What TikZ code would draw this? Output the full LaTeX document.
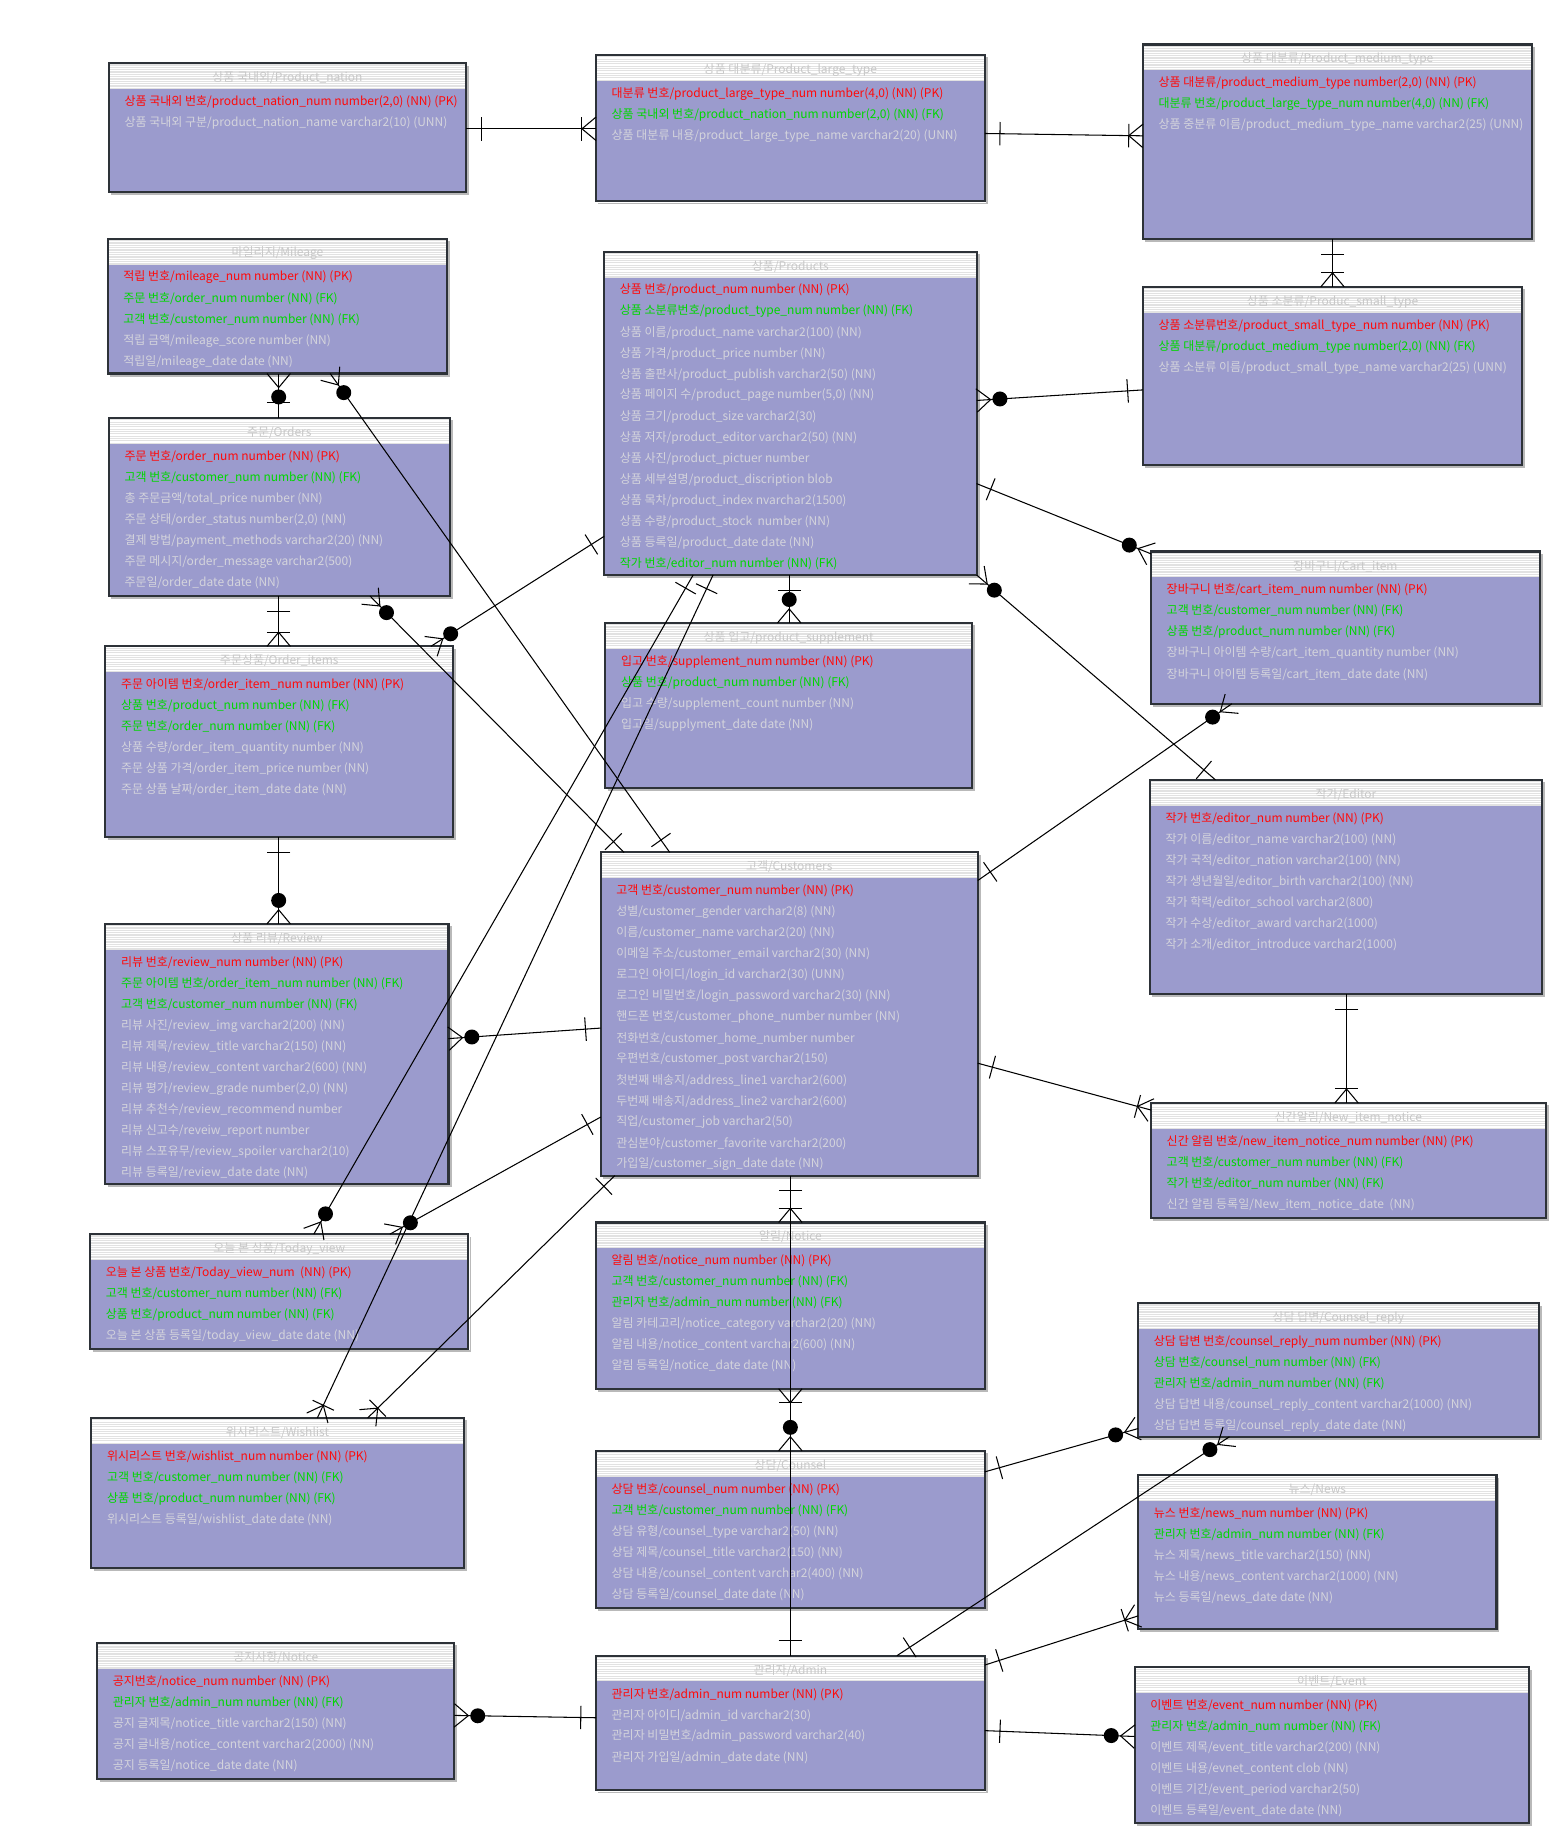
\documentclass[tikz,border=0pt]{standalone}
\usepackage{fontspec}
\setmainfont{Noto Sans CJK KR}
\usetikzlibrary{calc}
\definecolor{bodyc}{RGB}{155,155,205}
\definecolor{borderc}{RGB}{45,50,56}
\definecolor{pkc}{RGB}{255,10,10}
\definecolor{fkc}{RGB}{0,215,0}
\definecolor{nmc}{RGB}{212,212,220}
\definecolor{ttlc}{RGB}{200,200,200}
\definecolor{hdrc}{RGB}{226,226,226}
\newcommand\rowfont{\fontsize{5.12pt}{6pt}\selectfont}
\tikzset{
  entbox/.style={fill=bodyc, inner sep=0pt, outer sep=0pt, anchor=north west, draw=none},
  rowtxt/.style={anchor=west, inner sep=0pt, font=\rowfont},
  ttltxt/.style={inner sep=0pt, text=ttlc, font=\rowfont},
  conn/.style={line width=0.45pt, draw=black},
}
\newcommand\ent[6]{%
  \node[entbox, minimum width={(#4-#2)*0.5pt}, minimum height={(#5-#3)*0.5pt}] (#1) at (#2,#3) {};
  \fill[hdrc] (#2,#3) rectangle (#4,#3+22);
  \foreach \k in {0.5,2.5,...,20.5} \draw[white, line width=0.5pt] (#2,#3+\k) -- (#4,#3+\k);
  \draw[gray!55, line width=0.8pt] (#2+2,#5+1.8) -- (#4+1.8,#5+1.8) -- (#4+1.8,#3+2);
  \draw[borderc, line width=0.9pt] (#1.north west) rectangle (#1.south east);
  \node[ttltxt] (#1-t) at ($(#1.north)+(0,12.5)$) {#6};
}
\newcommand\rw[4]{\node[rowtxt, text=#3] (#1-r#2) at ($(#1.north west)+(13,{33+17.95*(#2-1)})$) {#4};}
\newcommand\mkone[2]{\coordinate (mk) at ($(#1)!6.5pt!(#2)$); \draw[conn] ($(mk)!5pt!90:(#2)$) -- ($(mk)!5pt!-90:(#2)$);}
\newcommand\mkcrow[2]{\coordinate (cv) at ($(#1)!6pt!(#2)$); \draw[conn] ($(#1)!5pt!90:(#2)$) -- (cv) -- ($(#1)!5pt!-90:(#2)$);}
\newcommand\mkom[2]{\mkcrow{#1}{#2}\coordinate (mk) at ($(#1)!6pt!(#2)$); \draw[conn] ($(mk)!5pt!90:(#2)$) -- ($(mk)!5pt!-90:(#2)$);}
\newcommand\mkzm[2]{\mkcrow{#1}{#2}\fill ($(#1)!10pt!(#2)$) circle (3.2pt);}
\newcommand\rel[5]{\coordinate (#1a) at #2; \coordinate (#1b) at #3; \draw[conn] (#1a) -- (#1b); \csname mk#4\endcsname{#1a}{#1b}\csname mk#5\endcsname{#1b}{#1a}}
\begin{document}
\catcode`\_=12
\begin{tikzpicture}[x=0.5pt, y=-0.5pt]
\fill[white] (0,0) rectangle (1331,1568);
\useasboundingbox (0,0) rectangle (1331,1568);
% ---------------- entities
\ent{nation}{93}{54}{398}{164}{상품 국내외/Product_nation}
\rw{nation}{1}{pkc}{상품 국내외 번호/product_nation_num number(2,0) (NN) (PK)}
\rw{nation}{2}{nmc}{상품 국내외 구분/product_nation_name varchar2(10) (UNN)}

\ent{large}{509}{47}{841}{172}{상품 대분류/Product_large_type}
\rw{large}{1}{pkc}{대분류 번호/product_large_type_num number(4,0) (NN) (PK)}
\rw{large}{2}{fkc}{상품 국내외 번호/product_nation_num number(2,0) (NN) (FK)}
\rw{large}{3}{nmc}{상품 대분류 내용/product_large_type_name varchar2(20) (UNN)}

\ent{medium}{976}{38}{1308}{204}{상품 대분류/Product_medium_type}
\rw{medium}{1}{pkc}{상품 대분류/product_medium_type number(2,0) (NN) (PK)}
\rw{medium}{2}{fkc}{대분류 번호/product_large_type_num number(4,0) (NN) (FK)}
\rw{medium}{3}{nmc}{상품 중분류 이름/product_medium_type_name varchar2(25) (UNN)}

\ent{mileage}{92}{204}{382}{319}{마일리지/Mileage}
\rw{mileage}{1}{pkc}{적립 번호/mileage_num number (NN) (PK)}
\rw{mileage}{2}{fkc}{주문 번호/order_num number (NN) (FK)}
\rw{mileage}{3}{fkc}{고객 번호/customer_num number (NN) (FK)}
\rw{mileage}{4}{nmc}{적립 금액/mileage_score number (NN)}
\rw{mileage}{5}{nmc}{적립일/mileage_date date (NN)}

\ent{products}{516}{215}{834}{491}{상품/Products}
\rw{products}{1}{pkc}{상품 번호/product_num number (NN) (PK)}
\rw{products}{2}{fkc}{상품 소분류번호/product_type_num number (NN) (FK)}
\rw{products}{3}{nmc}{상품 이름/product_name varchar2(100) (NN)}
\rw{products}{4}{nmc}{상품 가격/product_price number (NN)}
\rw{products}{5}{nmc}{상품 출판사/product_publish varchar2(50) (NN)}
\rw{products}{6}{nmc}{상품 페이지 수/product_page number(5,0) (NN)}
\rw{products}{7}{nmc}{상품 크기/product_size varchar2(30)}
\rw{products}{8}{nmc}{상품 저자/product_editor varchar2(50) (NN)}
\rw{products}{9}{nmc}{상품 사진/product_pictuer number}
\rw{products}{10}{nmc}{상품 세부설명/product_discription blob}
\rw{products}{11}{nmc}{상품 목차/product_index nvarchar2(1500)}
\rw{products}{12}{nmc}{상품 수량/product_stock~ number (NN)}
\rw{products}{13}{nmc}{상품 등록일/product_date date (NN)}
\rw{products}{14}{fkc}{작가 번호/editor_num number (NN) (FK)}

\ent{small}{976}{245}{1300}{397}{상품 소분류/Produc_small_type}
\rw{small}{1}{pkc}{상품 소분류번호/product_small_type_num number (NN) (PK)}
\rw{small}{2}{fkc}{상품 대분류/product_medium_type number(2,0) (NN) (FK)}
\rw{small}{3}{nmc}{상품 소분류 이름/product_small_type_name varchar2(25) (UNN)}

\ent{orders}{93}{357}{384}{509}{주문/Orders}
\rw{orders}{1}{pkc}{주문 번호/order_num number (NN) (PK)}
\rw{orders}{2}{fkc}{고객 번호/customer_num number (NN) (FK)}
\rw{orders}{3}{nmc}{총 주문금액/total_price number (NN)}
\rw{orders}{4}{nmc}{주문 상태/order_status number(2,0) (NN)}
\rw{orders}{5}{nmc}{결제 방법/payment_methods varchar2(20) (NN)}
\rw{orders}{6}{nmc}{주문 메시지/order_message varchar2(500)}
\rw{orders}{7}{nmc}{주문일/order_date date (NN)}

\ent{cart}{983}{471}{1315}{601}{장바구니/Cart_item}
\rw{cart}{1}{pkc}{장바구니 번호/cart_item_num number (NN) (PK)}
\rw{cart}{2}{fkc}{고객 번호/customer_num number (NN) (FK)}
\rw{cart}{3}{fkc}{상품 번호/product_num number (NN) (FK)}
\rw{cart}{4}{nmc}{장바구니 아이템 수량/cart_item_quantity number (NN)}
\rw{cart}{5}{nmc}{장바구니 아이템 등록일/cart_item_date date (NN)}

\ent{oitems}{90}{552}{387}{715}{주문상품/Order_items}
\rw{oitems}{1}{pkc}{주문 아이템 번호/order_item_num number (NN) (PK)}
\rw{oitems}{2}{fkc}{상품 번호/product_num number (NN) (FK)}
\rw{oitems}{3}{fkc}{주문 번호/order_num number (NN) (FK)}
\rw{oitems}{4}{nmc}{상품 수량/order_item_quantity number (NN)}
\rw{oitems}{5}{nmc}{주문 상품 가격/order_item_price number (NN)}
\rw{oitems}{6}{nmc}{주문 상품 날짜/order_item_date date (NN)}

\ent{supp}{517}{532}{830}{673}{상품 입고/product_supplement}
\rw{supp}{1}{pkc}{입고 번호/supplement_num number (NN) (PK)}
\rw{supp}{2}{fkc}{상품 번호/product_num number (NN) (FK)}
\rw{supp}{3}{nmc}{입고 수량/supplement_count number (NN)}
\rw{supp}{4}{nmc}{입고일/supplyment_date date (NN)}

\ent{editor}{982}{666}{1317}{849}{작가/Editor}
\rw{editor}{1}{pkc}{작가 번호/editor_num number (NN) (PK)}
\rw{editor}{2}{nmc}{작가 이름/editor_name varchar2(100) (NN)}
\rw{editor}{3}{nmc}{작가 국적/editor_nation varchar2(100) (NN)}
\rw{editor}{4}{nmc}{작가 생년월일/editor_birth varchar2(100) (NN)}
\rw{editor}{5}{nmc}{작가 학력/editor_school varchar2(800)}
\rw{editor}{6}{nmc}{작가 수상/editor_award varchar2(1000)}
\rw{editor}{7}{nmc}{작가 소개/editor_introduce varchar2(1000)}

\ent{customers}{513}{728}{835}{1004}{고객/Customers}
\rw{customers}{1}{pkc}{고객 번호/customer_num number (NN) (PK)}
\rw{customers}{2}{nmc}{성별/customer_gender varchar2(8) (NN)}
\rw{customers}{3}{nmc}{이름/customer_name varchar2(20) (NN)}
\rw{customers}{4}{nmc}{이메일 주소/customer_email varchar2(30) (NN)}
\rw{customers}{5}{nmc}{로그인 아이디/login_id varchar2(30) (UNN)}
\rw{customers}{6}{nmc}{로그인 비밀번호/login_password varchar2(30) (NN)}
\rw{customers}{7}{nmc}{핸드폰 번호/customer_phone_number number (NN)}
\rw{customers}{8}{nmc}{전화번호/customer_home_number number}
\rw{customers}{9}{nmc}{우편번호/customer_post varchar2(150)}
\rw{customers}{10}{nmc}{첫번째 배송지/address_line1 varchar2(600)}
\rw{customers}{11}{nmc}{두번째 배송지/address_line2 varchar2(600)}
\rw{customers}{12}{nmc}{직업/customer_job varchar2(50)}
\rw{customers}{13}{nmc}{관심분야/customer_favorite varchar2(200)}
\rw{customers}{14}{nmc}{가입일/customer_sign_date date (NN)}

\ent{review}{90}{789}{383}{1011}{상품 리뷰/Review}
\rw{review}{1}{pkc}{리뷰 번호/review_num number (NN) (PK)}
\rw{review}{2}{fkc}{주문 아이템 번호/order_item_num number (NN) (FK)}
\rw{review}{3}{fkc}{고객 번호/customer_num number (NN) (FK)}
\rw{review}{4}{nmc}{리뷰 사진/review_img varchar2(200) (NN)}
\rw{review}{5}{nmc}{리뷰 제목/review_title varchar2(150) (NN)}
\rw{review}{6}{nmc}{리뷰 내용/review_content varchar2(600) (NN)}
\rw{review}{7}{nmc}{리뷰 평가/review_grade number(2,0) (NN)}
\rw{review}{8}{nmc}{리뷰 추천수/review_recommend number}
\rw{review}{9}{nmc}{리뷰 신고수/reveiw_report number}
\rw{review}{10}{nmc}{리뷰 스포유무/review_spoiler varchar2(10)}
\rw{review}{11}{nmc}{리뷰 등록일/review_date date (NN)}

\ent{newitem}{983}{942}{1320}{1040}{신간알림/New_item_notice}
\rw{newitem}{1}{pkc}{신간 알림 번호/new_item_notice_num number (NN) (PK)}
\rw{newitem}{2}{fkc}{고객 번호/customer_num number (NN) (FK)}
\rw{newitem}{3}{fkc}{작가 번호/editor_num number (NN) (FK)}
\rw{newitem}{4}{nmc}{신간 알림 등록일/New_item_notice_date~ (NN)}

\ent{today}{77}{1054}{400}{1152}{오늘 본 상품/Today_view}
\rw{today}{1}{pkc}{오늘 본 상품 번호/Today_view_num~ (NN) (PK)}
\rw{today}{2}{fkc}{고객 번호/customer_num number (NN) (FK)}
\rw{today}{3}{fkc}{상품 번호/product_num number (NN) (FK)}
\rw{today}{4}{nmc}{오늘 본 상품 등록일/today_view_date date (NN)}

\ent{notice}{509}{1044}{841}{1186}{알림/Notice}
\rw{notice}{1}{pkc}{알림 번호/notice_num number (NN) (PK)}
\rw{notice}{2}{fkc}{고객 번호/customer_num number (NN) (FK)}
\rw{notice}{3}{fkc}{관리자 번호/admin_num number (NN) (FK)}
\rw{notice}{4}{nmc}{알림 카테고리/notice_category varchar2(20) (NN)}
\rw{notice}{5}{nmc}{알림 내용/notice_content varchar2(600) (NN)}
\rw{notice}{6}{nmc}{알림 등록일/notice_date date (NN)}

\ent{reply}{972}{1113}{1314}{1227}{상담 답변/Counsel_reply}
\rw{reply}{1}{pkc}{상담 답변 번호/counsel_reply_num number (NN) (PK)}
\rw{reply}{2}{fkc}{상담 번호/counsel_num number (NN) (FK)}
\rw{reply}{3}{fkc}{관리자 번호/admin_num number (NN) (FK)}
\rw{reply}{4}{nmc}{상담 답변 내용/counsel_reply_content varchar2(1000) (NN)}
\rw{reply}{5}{nmc}{상담 답변 등록일/counsel_reply_date date (NN)}

\ent{wish}{78}{1211}{396}{1339}{위시리스트/Wishlist}
\rw{wish}{1}{pkc}{위시리스트 번호/wishlist_num number (NN) (PK)}
\rw{wish}{2}{fkc}{고객 번호/customer_num number (NN) (FK)}
\rw{wish}{3}{fkc}{상품 번호/product_num number (NN) (FK)}
\rw{wish}{4}{nmc}{위시리스트 등록일/wishlist_date date (NN)}

\ent{counsel}{509}{1239}{841}{1373}{상담/Counsel}
\rw{counsel}{1}{pkc}{상담 번호/counsel_num number (NN) (PK)}
\rw{counsel}{2}{fkc}{고객 번호/customer_num number (NN) (FK)}
\rw{counsel}{3}{nmc}{상담 유형/counsel_type varchar2(50) (NN)}
\rw{counsel}{4}{nmc}{상담 제목/counsel_title varchar2(150) (NN)}
\rw{counsel}{5}{nmc}{상담 내용/counsel_content varchar2(400) (NN)}
\rw{counsel}{6}{nmc}{상담 등록일/counsel_date date (NN)}

\ent{news}{972}{1260}{1278}{1391}{뉴스/News}
\rw{news}{1}{pkc}{뉴스 번호/news_num number (NN) (PK)}
\rw{news}{2}{fkc}{관리자 번호/admin_num number (NN) (FK)}
\rw{news}{3}{nmc}{뉴스 제목/news_title varchar2(150) (NN)}
\rw{news}{4}{nmc}{뉴스 내용/news_content varchar2(1000) (NN)}
\rw{news}{5}{nmc}{뉴스 등록일/news_date date (NN)}

\ent{gnotice}{83}{1403}{388}{1519}{공지사항/Notice}
\rw{gnotice}{1}{pkc}{공지번호/notice_num number (NN) (PK)}
\rw{gnotice}{2}{fkc}{관리자 번호/admin_num number (NN) (FK)}
\rw{gnotice}{3}{nmc}{공지 글제목/notice_title varchar2(150) (NN)}
\rw{gnotice}{4}{nmc}{공지 글내용/notice_content varchar2(2000) (NN)}
\rw{gnotice}{5}{nmc}{공지 등록일/notice_date date (NN)}

\ent{admin}{509}{1414}{841}{1529}{관리자/Admin}
\rw{admin}{1}{pkc}{관리자 번호/admin_num number (NN) (PK)}
\rw{admin}{2}{nmc}{관리자 아이디/admin_id varchar2(30)}
\rw{admin}{3}{nmc}{관리자 비밀번호/admin_password varchar2(40)}
\rw{admin}{4}{nmc}{관리자 가입일/admin_date date (NN)}

\ent{event}{969}{1424}{1306}{1557}{이벤트/Event}
\rw{event}{1}{pkc}{이벤트 번호/event_num number (NN) (PK)}
\rw{event}{2}{fkc}{관리자 번호/admin_num number (NN) (FK)}
\rw{event}{3}{nmc}{이벤트 제목/event_title varchar2(200) (NN)}
\rw{event}{4}{nmc}{이벤트 내용/evnet_content clob (NN)}
\rw{event}{5}{nmc}{이벤트 기간/event_period varchar2(50)}
\rw{event}{6}{nmc}{이벤트 등록일/event_date date (NN)}

% ---------------- relationships
\rel{r01}{(nation.east |- 0,110)}{(large.west |- 0,110)}{one}{om}
\rel{r02}{(large.east |- 0,114)}{(medium.west |- 0,116)}{one}{om}
\rel{r03}{(1138,0 |- medium.south)}{(1138,0 |- small.north)}{one}{om}
\rel{r04}{(small.west |- 0,333)}{(products.east |- 0,342)}{one}{zm}
\rel{r05}{(products.east |- 0,413)}{(cart.west |- 0,473)}{one}{zm}
\rel{r06}{(1038,0 |- editor.north)}{(products.south east)}{one}{zm}
\rel{r07}{(674,0 |- products.south)}{(674,0 |- supp.north)}{one}{zm}
\rel{r08}{(products.west |- 0,458)}{(368,0 |- oitems.north)}{one}{zm}
\rel{r09}{(238,0 |- orders.north)}{(238,0 |- mileage.south)}{one}{zm}
\rel{r10}{(572,0 |- customers.north)}{(282,0 |- mileage.south)}{one}{zm}
\rel{r11}{(238,0 |- orders.south)}{(238,0 |- oitems.north)}{one}{om}
\rel{r12}{(533,0 |- customers.north)}{(316,0 |- orders.south)}{one}{zm}
\rel{r13}{(238,0 |- oitems.south)}{(238,0 |- review.north)}{one}{zm}
\rel{r14}{(customers.west |- 0,878)}{(review.east |- 0,887)}{one}{zm}
\rel{r15}{(customers.west |- 0,954)}{(333,0 |- today.north)}{one}{zm}
\rel{r16}{(525,0 |- customers.south)}{(314,0 |- wish.north)}{one}{om}
\rel{r17}{(592,0 |- products.south)}{(268,0 |- today.north)}{one}{zm}
\rel{r18}{(609,0 |- products.south)}{(271,0 |- wish.north)}{one}{om}
\rel{r19}{(customers.east |- 0,752)}{(1052,0 |- cart.south)}{one}{zm}
\rel{r20}{(customers.east |- 0,908)}{(newitem.west |- 0,948)}{one}{om}
\rel{r21}{(1150,0 |- editor.south)}{(1150,0 |- newitem.north)}{one}{om}
\rel{r22}{(675,0 |- customers.south)}{(675,0 |- notice.north)}{one}{om}
\rel{r23}{(675,0 |- admin.north)}{(675,0 |- notice.south)}{one}{om}
\rel{r24}{(675,0 |- customers.south)}{(675,0 |- counsel.north)}{one}{zm}
\rel{r25}{(counsel.east |- 0,1257)}{(reply.west |- 0,1220)}{one}{zm}
\rel{r26}{(766,0 |- admin.north)}{(1050,0 |- reply.south)}{one}{zm}
\rel{r27}{(admin.east |- 0,1422)}{(news.west |- 0,1380)}{one}{om}
\rel{r28}{(admin.east |- 0,1478)}{(event.west |- 0,1483)}{one}{zm}
\rel{r29}{(admin.west |- 0,1467)}{(gnotice.east |- 0,1465)}{one}{zm}
\end{tikzpicture}
\end{document}
